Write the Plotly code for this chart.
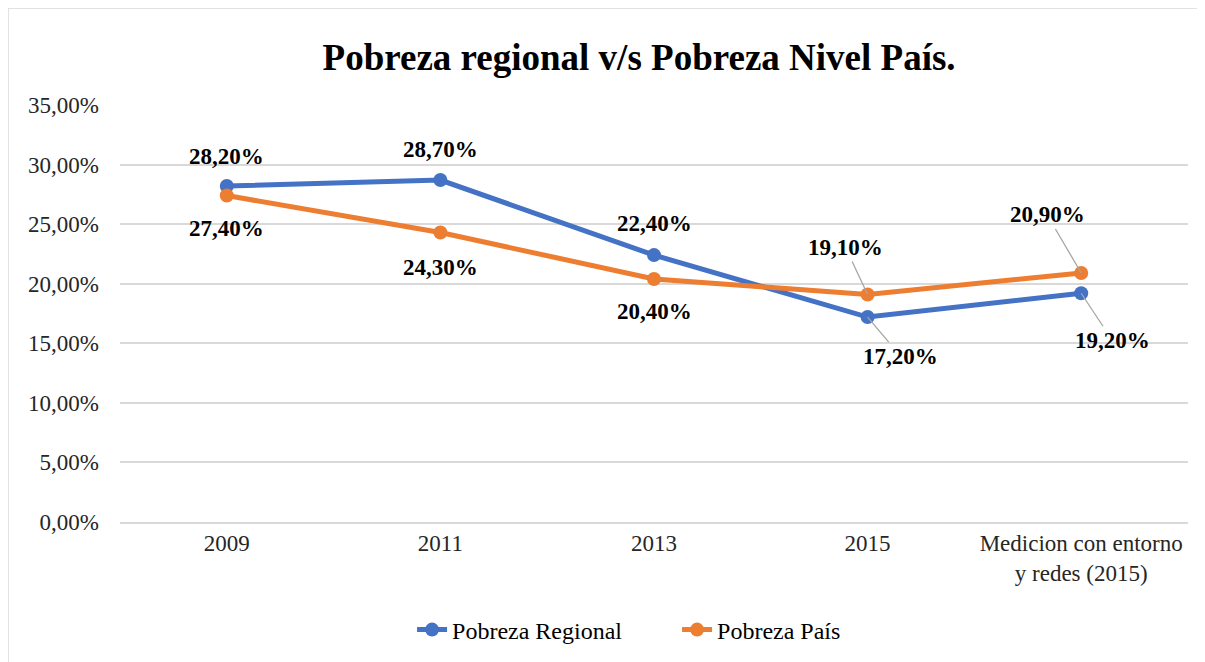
import plotly.graph_objects as go

categories = ["2009", "2011", "2013", "2015", "Medicion con entorno<br>y redes (2015)"]
regional = [28.2, 28.7, 22.4, 17.2, 19.2]
pais = [27.4, 24.3, 20.4, 19.1, 20.9]
y_ticks = [0, 5, 10, 15, 20, 25, 30, 35]
y_tick_labels = ["0,00%", "5,00%", "10,00%", "15,00%", "20,00%", "25,00%", "30,00%", "35,00%"]

BLUE = "#4472C4"
ORANGE = "#ED7D31"
FONT = "Liberation Serif, Times New Roman, serif"

def fmt(v):
    return f"{v:.2f}".replace(".", ",") + "%"

fig = go.Figure()
fig.add_trace(go.Scatter(x=categories, y=regional, name="Pobreza Regional", mode="lines+markers",
                         line=dict(color=BLUE, width=5), marker=dict(size=14, color=BLUE)))
fig.add_trace(go.Scatter(x=categories, y=pais, name="Pobreza País", mode="lines+markers",
                         line=dict(color=ORANGE, width=5), marker=dict(size=14, color=ORANGE)))

# label placement: (series, index, dx, dy, leader)
placements = [
    (regional, 0, 0, -30, False), (pais, 0, 0, 33, False),
    (regional, 1, 0, -31, False), (pais, 1, 0, 35, False),
    (regional, 2, 0, -32, False), (pais, 2, 0, 33, False),
    (pais, 3, -22, -47, True), (regional, 3, 33, 39, True),
    (pais, 4, -34, -58, True), (regional, 4, 31, 47, True),
]
for series, i, dx, dy, leader in placements:
    if leader:
        fig.add_annotation(x=i, y=series[i], text="<b>" + fmt(series[i]) + "</b>",
                           showarrow=True, ax=dx, ay=dy, arrowhead=0, arrowwidth=1.3,
                           arrowcolor="#A6A6A6", standoff=0,
                           font=dict(family=FONT, size=23, color="black"))
    else:
        fig.add_annotation(x=i, y=series[i], text="<b>" + fmt(series[i]) + "</b>",
                           showarrow=False, xshift=dx, yshift=-dy,
                           font=dict(family=FONT, size=23, color="black"))

# outer chart border (left and top edges visible)
fig.add_shape(type="rect", xref="paper", yref="paper", x0=-0.1049, x1=1.2, y0=-0.6, y1=1.2326,
              line=dict(color="#D9D9D9", width=1.5), layer="below")

fig.update_layout(
    width=1205, height=662,
    margin=dict(l=112, r=25, t=97, b=148),
    paper_bgcolor="white", plot_bgcolor="white",
    font=dict(family=FONT, size=23, color="black"),
    title=dict(text="<b>Pobreza regional v/s Pobreza Nivel País.</b>", x=0.5237, xanchor="center",
               y=0.926, yanchor="middle", font=dict(family=FONT, size=37, color="black")),
    legend=dict(orientation="h", x=0.5216, xanchor="center", y=-0.259, yanchor="middle",
                entrywidth=220, entrywidthmode="pixels",
                font=dict(family=FONT, size=24, color="black")),
    showlegend=True,
)
fig.update_xaxes(type="category", showgrid=False, showline=True, linecolor="#D9D9D9", linewidth=1.5,
                 ticks="", tickfont=dict(family=FONT, size=23, color="#262626"), range=[-0.5, 4.5])
fig.update_yaxes(range=[0, 35], tickvals=y_ticks, ticktext=y_tick_labels, showgrid=True,
                 gridcolor="#D9D9D9", gridwidth=1.5, zeroline=False, showline=False,
                 tickfont=dict(family=FONT, size=23, color="#262626"), ticks="", ticklabelstandoff=20)

fig.write_html("out.html")
